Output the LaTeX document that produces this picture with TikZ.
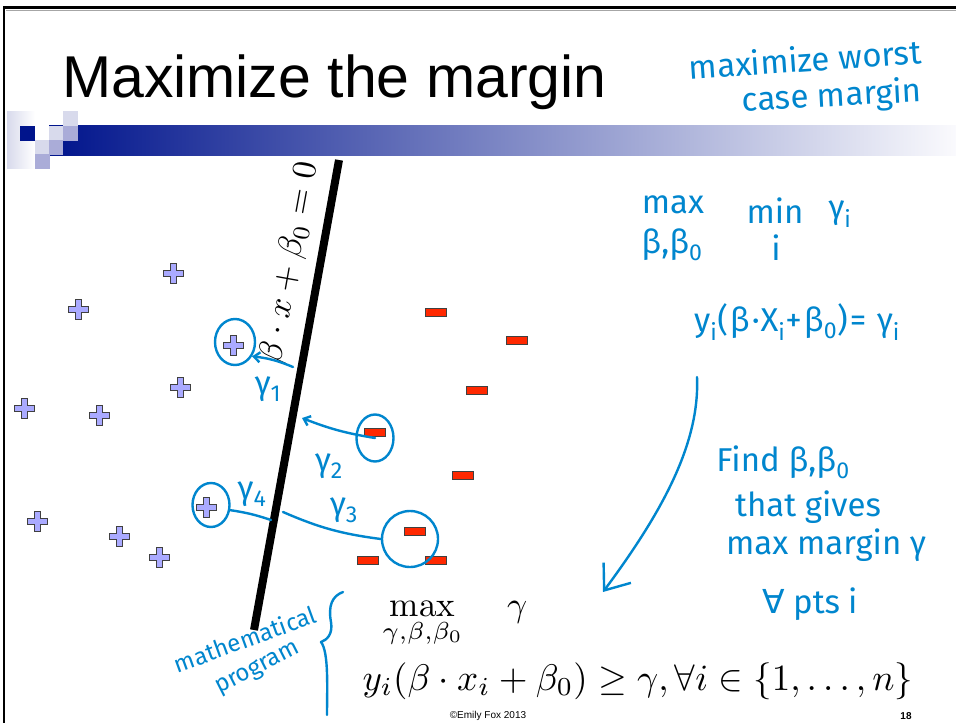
\documentclass[tikz,border=0pt]{standalone}
\usepackage{fontspec}
\newfontfamily\slidefont{Liberation Sans}
\newfontfamily\handfont{Fira Sans}
\newfontfamily\symfont{DejaVu Sans}
\usepackage{xcolor}
\usepackage{tikz}
\usetikzlibrary{shapes, arrows.meta, positioning, calc}
\definecolor{ink}{RGB}{0,134,206}
\definecolor{plusfill}{RGB}{170,170,255}
\definecolor{minusfill}{RGB}{255,40,0}
\definecolor{barblue}{RGB}{0,20,140}
\definecolor{barmid}{RGB}{140,142,198}
\definecolor{barend}{RGB}{250,250,253}
\definecolor{sqlight}{RGB}{216,218,236}
\definecolor{sqmid}{RGB}{170,172,216}
\tikzset{
	hyperplane/.style={draw=black, line width=8pt},
	plus_pt/.pic={\filldraw[fill=plusfill, draw=black!75, line width=0.8pt] (-3,-10) -- (3,-10) -- (3,-3) -- (10,-3) -- (10,3) -- (3,3) -- (3,10) -- (-3,10) -- (-3,3) -- (-10,3) -- (-10,-3) -- (-3,-3) -- cycle;},
	minus_pt/.style={rectangle, draw=black!75, fill=minusfill, line width=0.8pt, minimum width=21pt, minimum height=8pt, inner sep=0pt},
	ink_line/.style={draw=ink, line width=2.4pt, line cap=round, line join=round},
	ink_arrow/.style={ink_line, -{Straight Barb[length=6pt, width=10pt]}},
	ink_loop/.style={ellipse, draw=ink, line width=2.4pt, inner sep=0pt},
	hand/.style={text=ink, inner sep=0pt, font=\handfont\fontsize{33}{36}\selectfont},
	hand_small/.style={hand, font=\handfont\fontsize{24}{26}\selectfont},
	math_txt/.style={inner sep=0pt, font=\normalsize, scale=3.7},
	title_txt/.style={inner sep=0pt, font=\slidefont\fontsize{59}{64}\selectfont},
	foot_txt/.style={inner sep=0pt, font=\slidefont\fontsize{10}{12}\selectfont}
}
\begin{document}
\begin{tikzpicture}[x=1pt, y=-1pt]
	\useasboundingbox[fill=white] (0,0) rectangle (956,723);
	% slide frame
	\draw[line width=3pt] (3,7.5) -- (956,7.5);
	\draw[line width=2pt] (4,6.5) -- (4,723);
	\draw[black!35, line width=0.6pt] (6,10) -- (956,10);
	% header bar
	\shade[left color=barblue, middle color=barmid, right color=barend] (49,125) rectangle (956,155);
	\shade[left color=sqlight, right color=white] (7,111) rectangle (35,168);
	\fill[barblue] (20,126) rectangle (35,141);
	\fill[sqlight] (35,140) rectangle (50,154);
	\fill[sqmid] (35,154) rectangle (50,169);
	\fill[sqlight] (49,126) rectangle (63,140);
	\fill[sqmid] (49,140) rectangle (63,155);
	\fill[sqlight] (63,111) rectangle (78,126);
	\fill[sqmid] (63,126) rectangle (78,141);
	\node[title_txt, anchor=base west] (title) at (62,97) {Maximize the margin};

	% separating line
	\coordinate (hb) at (254,630);
	\coordinate (ht) at (339,160);
	\draw[hyperplane] (hb) -- (ht) node[pos=0.77, sloped, above=1pt, math_txt, scale=0.92] (hlabel) {$\beta\cdot x+\beta_0=0$};

	% data points
	\foreach \n/\x/\y in {1/173/273, 2/78/309, 3/233/345, 4/180/387, 5/24/408, 6/99/415, 7/206/507, 8/37/521, 9/119/536, 10/159/557} {
		\coordinate (p\n) at (\x,\y);
		\pic at (p\n) {plus_pt};
	}
	\foreach \n/\x/\y in {1/436/312, 2/517/340, 3/477/390, 4/375/432, 5/463/475, 6/415/531, 7/368/560, 8/436/560}
		\node[minus_pt] (m\n) at (\x,\y) {};

	% margins
	\node[ink_loop, minimum width=40pt, minimum height=46pt] (c1) at ($(p3)+(2,-3)$) {};
	\node[ink_loop, minimum width=37pt, minimum height=47pt] (c2) at ($(m4)+(0,6)$) {};
	\node[ink_loop, minimum size=56pt] (c3) at ($(m6)+(-5,8)$) {};
	\node[ink_loop, minimum width=37pt, minimum height=44pt] (c4) at ($(p7)+(5,-2)$) {};
	\coordinate (g1) at (293,367);
	\coordinate (g2) at (302,418);
	\coordinate (g3) at (283,512);
	\coordinate (g4) at (271,520);
	\draw[ink_arrow] (g1) to[bend right=8] (c1.-40);
	\draw[ink_arrow] (c2.center) to[bend left=6] (g2);
	\draw[ink_line] (g3) to[bend right=8] (c3.west);
	\draw[ink_line] (c4.-15) to[bend left=5] (g4);
	\node[hand] (lg1) at (268,389) {γ\textsubscript{1}};
	\node[hand] (lg2) at (329,466) {γ\textsubscript{2}};
	\node[hand] (lg3) at (344,510) {γ\textsubscript{3}};
	\node[hand] (lg4) at (252,494) {γ\textsubscript{4}};

	% notes
	\node[hand, rotate=4] (worst) at (805,59) {maximize worst};
	\node[hand, rotate=3] (case) at (832,97) {case margin};
	\node[hand] (nmax) at (673,205) {max};
	\node[hand] (nmaxsub) at (672,245) {β,β\textsubscript{0}};
	\node[hand] (nmin) at (775,211) {min};
	\node[hand] (ngam) at (840,214) {γ\textsubscript{i}};
	\node[hand] (nminsub) at (776,248) {i};
	\node[hand, font=\handfont\addfontfeatures{LetterSpace=6}\fontsize{33}{36}\selectfont] (ncons) at (797,322) {y\textsubscript{i}(β·X\textsubscript{i}+β\textsubscript{0})= γ\textsubscript{i}};
	\node[hand] (find) at (783,462) {Find β,β\textsubscript{0}};
	\node[hand, below=12pt of find.south, xshift=25pt, anchor=north] (gives) {that gives};
	\node[hand] (mgam) at (826,545) {max margin γ};
	\node[hand] (allpts) at (810,604) {{\symfont ∀}\hspace{8pt}pts\hspace{8pt}i};
	\coordinate (arr_s) at (697,377);
	\coordinate (arr_e) at (603,592);
	\draw[ink_line, -{Straight Barb[length=22pt, width=34pt]}] (arr_s) .. controls (700,445) and (660,515) .. (arr_e);

	% program
	\node[hand_small, rotate=20] (prog1) at (245,639) {mathematical};
	\node[hand_small, rotate=27] (prog2) at (258,669) {program};
	\draw[ink_line] (343,592) .. controls (332,596) and (328,606) .. (331,622) .. controls (333,634) and (327,640) .. (321,642) .. controls (329,652) and (327,690) .. (327,715);
	\node[math_txt, scale=0.95, anchor=base west] (obj) at (382,616) {$\displaystyle\max_{\gamma,\beta,\beta_0}\hspace{1.1em}\gamma$};
	\node[math_txt, anchor=base west] (cons) at (362,690) {$y_i(\beta\cdot x_i+\beta_0)\geq\gamma,\forall i\in\{1,\ldots,n\}$};

	% footer
	\node[foot_txt] (copy) at (488,716) {©Emily Fox 2013};
	\node[foot_txt, font=\slidefont\bfseries\fontsize{10}{12}\selectfont] (pnum) at (906,716) {18};
\end{tikzpicture}
\end{document}
